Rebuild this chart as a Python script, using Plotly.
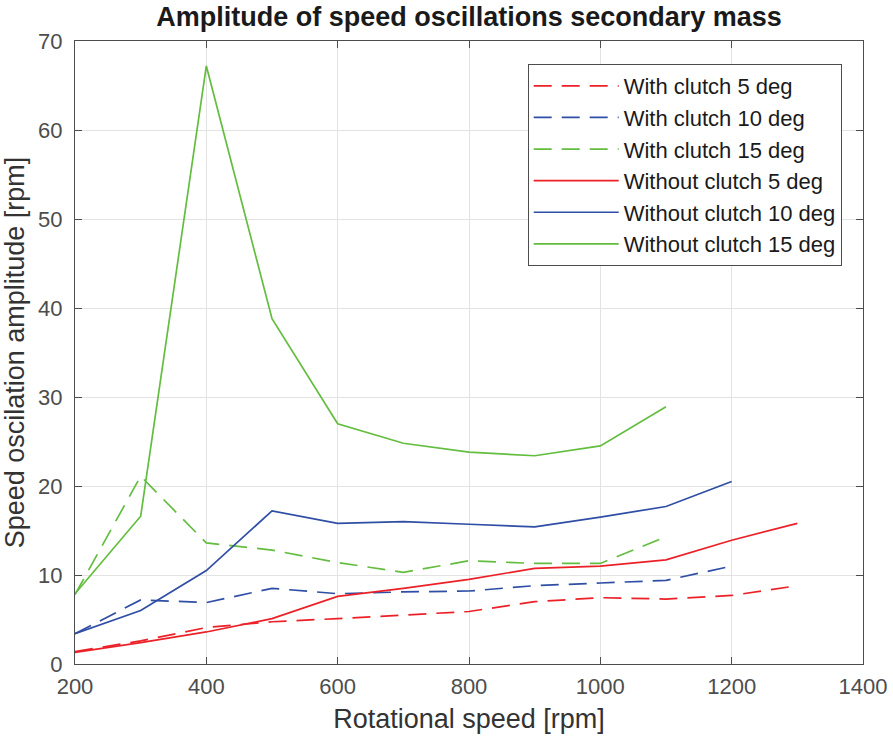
import plotly.graph_objects as go

rpm = [200, 300, 400, 500, 600, 700, 800, 900, 1000, 1100, 1200, 1300]

with_5 = [1.4, 2.6, 4.1, 4.75, 5.1, 5.5, 5.9, 7.0, 7.45, 7.3, 7.7, 8.8]
with_10 = [3.4, 7.2, 6.9, 8.5, 7.9, 8.1, 8.2, 8.8, 9.1, 9.4, 11.0]
with_15 = [7.8, 21.1, 13.6, 12.8, 11.4, 10.3, 11.6, 11.3, 11.3, 14.3]
without_5 = [1.3, 2.4, 3.6, 5.1, 7.6, 8.5, 9.5, 10.75, 11.0, 11.7, 13.9, 15.8]
without_10 = [3.4, 6.0, 10.5, 17.2, 15.8, 16.0, 15.7, 15.4, 16.5, 17.7, 20.5]
without_15 = [7.9, 16.6, 67.2, 38.8, 27.0, 24.8, 23.8, 23.4, 24.5, 28.9]

names = ["With clutch 5 deg", "With clutch 10 deg", "With clutch 15 deg",
         "Without clutch 5 deg", "Without clutch 10 deg", "Without clutch 15 deg"]

RED = "#ec2127"
BLUE = "#2f4ea5"
GREEN = "#63bd3f"
DASH = "18px,10px"

series = [
    (with_5, RED, DASH),
    (with_10, BLUE, DASH),
    (with_15, GREEN, DASH),
    (without_5, RED, "solid"),
    (without_10, BLUE, "solid"),
    (without_15, GREEN, "solid"),
]

fig = go.Figure()
for (vals, col, dash), name in zip(series, names):
    fig.add_trace(go.Scatter(
        x=rpm[:len(vals)], y=vals, mode="lines", name=name,
        line=dict(color=col, width=1.7, dash=dash),
    ))

FONT = "Liberation Sans, Arial, sans-serif"
axis_common = dict(
    showline=True, linecolor="#4d4d4d", linewidth=1, mirror="allticks",
    ticks="inside", ticklen=7, tickcolor="#4d4d4d",
    showgrid=True, gridcolor="#e3e3e3", gridwidth=1,
    zeroline=False, automargin=False,
    tickfont=dict(family=FONT, size=22, color="#4d4d4d"),
)

fig.update_layout(
    width=893, height=741,
    margin=dict(l=75, r=30, t=41, b=77),
    paper_bgcolor="white", plot_bgcolor="white",
    title=dict(text="<b>Amplitude of speed oscillations secondary mass</b>",
               font=dict(family=FONT, size=27, color="#1a1a1a"),
               x=0.5, xref="paper", xanchor="center",
               y=1 - 17 / 741, yref="container", yanchor="middle"),
    xaxis=dict(range=[200, 1400], dtick=200, tick0=200,
               ticklabelstandoff=3,
               title=dict(text="Rotational speed [rpm]",
                          font=dict(family=FONT, size=27, color="#333333"),
                          standoff=10),
               **axis_common),
    yaxis=dict(range=[0, 70], dtick=10,
               ticklabelstandoff=7,
               title=dict(text="Speed oscilation amplitude [rpm]",
                          font=dict(family=FONT, size=27, color="#333333"),
                          standoff=8),
               **axis_common),
    legend=dict(x=0.5745, y=0.963, xanchor="left", yanchor="top",
                bgcolor="white", bordercolor="#4d4d4d", borderwidth=1,
                font=dict(family=FONT, size=22, color="#1a1a1a"),
                itemwidth=85, tracegroupgap=0),
    showlegend=True,
)

fig.write_html("out.html")
